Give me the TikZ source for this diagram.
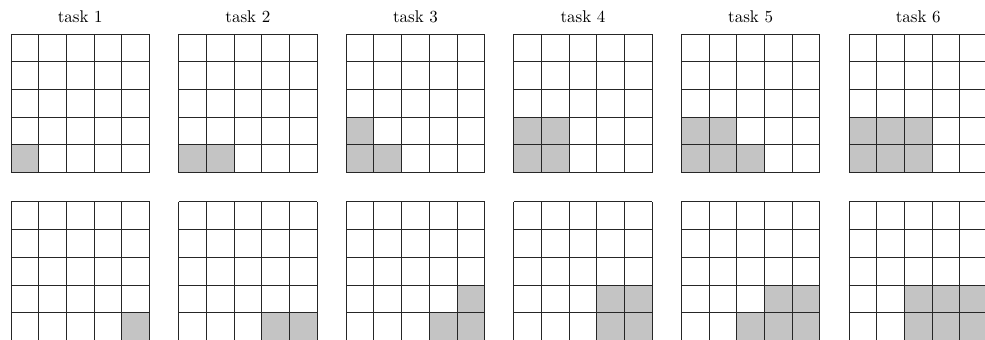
\documentclass[tikz,border=0pt]{standalone}
\usepackage{tikz}
\definecolor{CellGray}{HTML}{C4C4C4}
\tikzset{
  cellline/.style={line width=0.6pt, black!85},
  cellfill/.style={fill=CellGray},
}

\begin{document}
\begin{tikzpicture}[x=0.62cm, y=0.62cm, every node/.style={font=\fontsize{10.8}{13}\selectfont}]
  \useasboundingbox (-0.397,-6.04) rectangle (35.16,6.23);
  \clip (-0.397,-6.04) rectangle (35.16,6.23);
  % top row grows from the lower left corner, bottom row from the lower right
  \foreach \t/\cells in {1/{0/0}, 2/{0/0,1/0}, 3/{0/0,1/0,0/1}, 4/{0/0,1/0,0/1,1/1},
                         5/{0/0,1/0,2/0,0/1,1/1}, 6/{0/0,1/0,2/0,0/1,1/1,2/1}} {
    \begin{scope}[shift={({(\t-1)*6.05},0)}]
      \node[anchor=base] (title\t) at (2.5,5.42) {task \t};
      \foreach \cx/\cy in \cells
        \fill[cellfill] (\cx,\cy) rectangle ++(1,1);
      \draw[cellline, step=1] (0,0) grid (5,5);
      \begin{scope}[shift={(0,-6.06)}]
        \foreach \cx/\cy in \cells
          \fill[cellfill] (4-\cx,\cy) rectangle ++(1,1);
        \draw[cellline, step=1] (0,0) grid (5,5);
      \end{scope}
    \end{scope}
  }
\end{tikzpicture}
\end{document}
